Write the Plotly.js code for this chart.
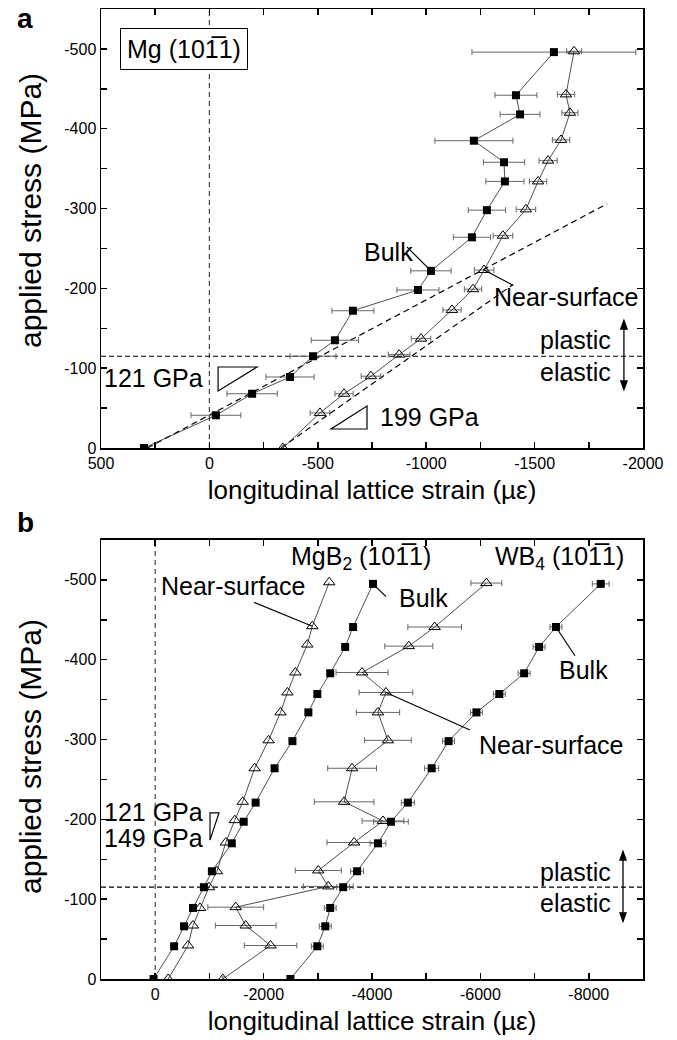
<!DOCTYPE html>
<html>
<head>
<meta charset="utf-8">
<script src="https://cdn.plot.ly/plotly-3.0.1.min.js"></script>
<style>html,body{margin:0;padding:0;background:#fff;}</style>
</head>
<body>
<div id="chart" style="width:677px;height:1040px;"></div>
<script>
// ---------- Panel a : Mg (10-11) ----------
const mgStressBulk = [0,-41,-68,-89,-115,-135,-172,-198,-222,-264,-298,-334,-358,-385,-418,-442,-496];
const mgStrainBulk = [302,-30,-197,-372,-478,-579,-662,-962,-1022,-1211,-1280,-1363,-1359,-1220,-1433,-1414,-1589];
const mgErrBulk    = [0,115,116,111,106,109,97,97,93,86,86,88,95,180,92,97,378];
const mgStressNS   = [0,-44,-68,-90,-117,-137,-173,-199,-223,-266,-299,-334,-360,-386,-420,-443,-497];
const mgStrainNS   = [-339,-510,-621,-745,-875,-976,-1119,-1216,-1267,-1354,-1460,-1516,-1562,-1622,-1663,-1645,-1682];
const mgErrNS      = [0,45,42,45,50,45,42,40,45,45,45,40,42,40,37,40,34];
// elastic fits (121 GPa bulk, 199 GPa near-surface)
const fitBulkStrainA = [286,-1835];
const fitBulkStressA = [0,-306];
const fitNSStrainA   = [-330,-1402];
const fitNSStressA   = [0,-205];

// ---------- Panel b : MgB2 and WB4 (10-11) ----------
const mgb2StressNS = [0,-42,-67,-89,-115,-135,-171,-199,-222,-264,-299,-334,-359,-384,-419,-442,-497];
const mgb2StrainNS = [-239,-606,-697,-826,-991,-1138,-1303,-1468,-1615,-1835,-2092,-2312,-2440,-2587,-2807,-2899,-3211];
const mgb2StressBulk = [0,-41,-66,-89,-115,-135,-170,-197,-221,-264,-298,-334,-357,-383,-416,-441,-495];
const mgb2StrainBulk = [30,-349,-532,-697,-899,-1046,-1413,-1633,-1853,-2202,-2532,-2826,-2991,-3229,-3505,-3651,-4018];
const wb4StressNS = [0,-42,-67,-90,-116,-136,-171,-198,-222,-264,-299,-334,-359,-384,-417,-441,-496];
const wb4StrainNS = [-1248,-2128,-1670,-1486,-3193,-3009,-3670,-4202,-3486,-3633,-4294,-4110,-4257,-3817,-4679,-5156,-6110];
const wb4ErrNS    = [0,485,560,515,460,425,500,385,550,450,430,400,495,480,443,495,285];
const wb4StressBulk = [0,-41,-66,-89,-115,-135,-170,-197,-221,-264,-298,-334,-357,-383,-416,-441,-495];
const wb4StrainBulk = [-2495,-2991,-3138,-3229,-3468,-3725,-4110,-4349,-4661,-5101,-5413,-5927,-6349,-6807,-7083,-7394,-8220];
const wb4ErrBulk    = [0,110,110,110,120,120,145,320,120,130,110,110,110,110,110,110,155];

// ---------- Ticks ----------
const xTickValsA = [500,0,-500,-1000,-1500,-2000];
const xTickTextA = ['500','0','-500','-1000','-1500','-2000'];
const xMinorA    = [250,-250,-750,-1250,-1750];
const xTickValsB = [0,-2000,-4000,-6000,-8000];
const xTickTextB = ['0','-2000','-4000','-6000','-8000'];
const xMinorB    = [-1000,-3000,-5000,-7000];
const yTickVals = [0,-100,-200,-300,-400,-500];
const yTickText = ['0','-100','-200','-300','-400','-500'];
const yMinor    = [-50,-150,-250,-350,-450];

const FONT = 'Liberation Sans, Arial, Helvetica, sans-serif';
const LINE_C = '#222';
const ERR_C = '#666';

function bulkTrace(x, y, err, xa, ya) {
  const t = {x:x, y:y, xaxis:xa, yaxis:ya, mode:'lines+markers', type:'scatter',
    line:{color:LINE_C, width:0.8},
    marker:{symbol:'square', size:8, color:'black', line:{width:0}}};
  if (err) t.error_x = {type:'data', array:err, symmetric:true, color:ERR_C, thickness:1, width:3};
  return t;
}
function nsTrace(x, y, err, xa, ya) {
  const t = {x:x, y:y, xaxis:xa, yaxis:ya, mode:'lines+markers', type:'scatter',
    line:{color:LINE_C, width:0.8},
    marker:{symbol:'triangle-up-open', size:10, color:'black', line:{width:1}}};
  if (err) t.error_x = {type:'data', array:err, symmetric:true, color:ERR_C, thickness:1, width:3};
  return t;
}
function fitTrace(x, y, xa, ya) {
  return {x:x, y:y, xaxis:xa, yaxis:ya, mode:'lines', type:'scatter', hoverinfo:'skip',
    line:{color:'black', width:1.2, dash:'6px,4px'}};
}

const data = [
  fitTrace(fitBulkStrainA, fitBulkStressA, 'x', 'y'),
  fitTrace(fitNSStrainA, fitNSStressA, 'x', 'y'),
  bulkTrace(mgStrainBulk, mgStressBulk, mgErrBulk, 'x', 'y'),
  nsTrace(mgStrainNS, mgStressNS, mgErrNS, 'x', 'y'),
  nsTrace(mgb2StrainNS, mgb2StressNS, null, 'x2', 'y2'),
  bulkTrace(mgb2StrainBulk, mgb2StressBulk, null, 'x2', 'y2'),
  nsTrace(wb4StrainNS, wb4StressNS, wb4ErrNS, 'x2', 'y2'),
  bulkTrace(wb4StrainBulk, wb4StressBulk, wb4ErrBulk, 'x2', 'y2')
];

function axisCommon(minorVals) {
  return {ticks:'inside', ticklen:6, tickwidth:1.5, tickcolor:'black',
    showline:true, linewidth:1.5, linecolor:'black', mirror:'ticks',
    showgrid:false, zeroline:false, tickfont:{size:16, family:FONT, color:'black'},
    tickmode:'array',
    minor:{tickmode:'array', tickvals:minorVals, ticks:'inside', ticklen:6, tickwidth:1.5, tickcolor:'black', showgrid:false}};
}
const xTitle = {text:'longitudinal lattice strain (\u00B5\u03B5)', font:{size:26, family:FONT, color:'black'}, standoff:10};

const layout = {
  width:677, height:1040,
  margin:{l:101, r:34, t:9, b:61},
  paper_bgcolor:'white', plot_bgcolor:'white',
  showlegend:false,
  font:{family:FONT, color:'black', size:16},
  xaxis: Object.assign(axisCommon(xMinorA), {domain:[0,1], anchor:'y', range:[500,-2000],
    tickvals:xTickValsA, ticktext:xTickTextA, title:xTitle}),
  yaxis: Object.assign(axisCommon(yMinor), {domain:[0.5474,1], anchor:'x', range:[0,-550],
    tickvals:yTickVals, ticktext:yTickText}),
  xaxis2: Object.assign(axisCommon(xMinorB), {domain:[0,1], anchor:'y2', range:[1000,-9000],
    tickvals:xTickValsB, ticktext:xTickTextB, title:xTitle}),
  yaxis2: Object.assign(axisCommon(yMinor), {domain:[0,0.4526], anchor:'x2', range:[0,-550],
    tickvals:yTickVals, ticktext:yTickText}),
  shapes:[], annotations:[]
};

const dashV = {dash:'5px,4px', width:1.2, color:'#444'};
const dashH = {dash:'5px,3px', width:1.2, color:'black'};
function vline(xa, ya){ return {type:'line', xref:xa, yref:ya+' domain', x0:0, x1:0, y0:0, y1:1, line:dashV, layer:'below'}; }
function hline(xa, ya, v){ return {type:'line', xref:xa+' domain', yref:ya, x0:0, x1:1, y0:v, y1:v, line:dashH, layer:'below'}; }
function seg(xa, ya, x0, y0, x1, y1, w){ return {type:'line', xref:xa, yref:ya, x0:x0, y0:y0, x1:x1, y1:y1, line:{color:'black', width:w||1.2}}; }
function tri(xa, ya, px, py, fill){ const s = {type:'path', xref:xa, yref:ya,
  path:'M'+px[0]+','+py[0]+' L'+px[1]+','+py[1]+' L'+px[2]+','+py[2]+' Z', line:{color:'black', width:1.2}};
  if (fill) s.fillcolor = 'black';
  return s; }
function dblArrow(xa, ya, x, yc, yUp, yDown, hw, hh){
  return [
    seg(xa, ya, x, yUp + hh*0.8, x, yDown - hh*0.8, 1.3),
    tri(xa, ya, [x, x-hw, x+hw], [yUp, yUp+hh, yUp+hh], true),
    tri(xa, ya, [x, x-hw, x+hw], [yDown, yDown-hh, yDown-hh], true)
  ];
}

layout.shapes.push(vline('x','y'), hline('x','y',-115), vline('x2','y2'), hline('x2','y2',-115));
layout.shapes.push(seg('x','y',-911,-252,-1022,-222));
layout.shapes.push(seg('x','y',-1267,-223,-1400,-204));
layout.shapes.push(tri('x','y',[-40,-220,-40],[-101.5,-101.5,-71.4]));
layout.shapes.push(tri('x','y',[-727,-727,-561],[-52.6,-23.8,-23.8]));
layout.shapes.push(seg('x2','y2',-1823,-472,-2899,-442));
layout.shapes.push(seg('x2','y2',-4258,-479,-4018,-495));
layout.shapes.push(seg('x2','y2',-7745,-405,-7394,-441));
layout.shapes.push(seg('x2','y2',-5808,-312,-4257,-359));
layout.shapes.push(tri('x2','y2',[-1011,-1177,-1011],[-208,-208,-174]));
layout.shapes.push(...dblArrow('x','y',-1912,-115,-160,-73,15,11));
layout.shapes.push(...dblArrow('x2','y2',-8631,-115,-160,-72,58,11));

function txt(xa, ya, x, y, s, anchor, size){
  return {xref:xa, yref:ya, x:x, y:y, text:s, showarrow:false, xanchor:anchor||'left', yanchor:'middle',
    font:{size:size||25, family:FONT, color:'black'}};
}
const A = layout.annotations;
A.push({xref:'x', yref:'y', x:117, y:-500, text:'Mg (10'+'1\u0305'+'1)', showarrow:false, xanchor:'center', yanchor:'middle',
  font:{size:25, family:FONT, color:'black'}, bordercolor:'black', borderwidth:1, borderpad:6, bgcolor:'white'});
A.push(txt('x','y',-824,-246,'Bulk','center'));
A.push(txt('x','y',-1649,-189,'Near-surface','center'));
A.push(txt('x','y',-1862,-135,'plastic','right'));
A.push(txt('x','y',-1862,-95,'elastic','right'));
A.push(txt('x','y',20,-88,'121 GPa','right'));
A.push(txt('x','y',-778,-39,'199 GPa','left'));
A.push(txt('x2','y2',-2469,-528,'MgB<sub>2</sub> (10'+'1\u0305'+'1)','left'));
A.push(txt('x2','y2',-6232,-528,'WB<sub>4</sub> (10'+'1\u0305'+'1)','left'));
A.push(txt('x2','y2',-70,-492,'Near-surface','left'));
A.push(txt('x2','y2',-4461,-477,'Bulk','left'));
A.push(txt('x2','y2',-7413,-387,'Bulk','left'));
A.push(txt('x2','y2',-5937,-293,'Near-surface','left'));
A.push(txt('x2','y2',-919,-209,'121 GPa','right'));
A.push(txt('x2','y2',-919,-177,'149 GPa','right'));
A.push(txt('x2','y2',-8446,-134,'plastic','right'));
A.push(txt('x2','y2',-8446,-95,'elastic','right'));
A.push({xref:'paper', yref:'paper', x:-0.129, y:0.7918, text:'applied stress (MPa)', textangle:-90, showarrow:false,
  xanchor:'center', yanchor:'middle', font:{size:30, family:FONT, color:'black'}});
A.push({xref:'paper', yref:'paper', x:-0.129, y:0.2289, text:'applied stress (MPa)', textangle:-90, showarrow:false,
  xanchor:'center', yanchor:'middle', font:{size:30, family:FONT, color:'black'}});
A.push({xref:'paper', yref:'paper', x:-0.140, y:0.9907, text:'<b>a</b>', showarrow:false, xanchor:'center', yanchor:'middle',
  font:{size:28, family:FONT, color:'black'}});
A.push({xref:'paper', yref:'paper', x:-0.140, y:0.4711, text:'<b>b</b>', showarrow:false, xanchor:'center', yanchor:'middle',
  font:{size:28, family:FONT, color:'black'}});

Plotly.newPlot('chart', data, layout, {staticPlot:true, displayModeBar:false});
</script>
</body>
</html>
